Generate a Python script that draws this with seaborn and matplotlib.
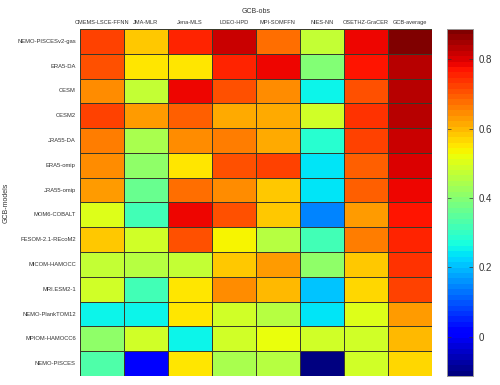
import numpy as np
import pandas as pd
import matplotlib
matplotlib.use("Agg")
import matplotlib.pyplot as plt
import seaborn as sns

obs = ["CMEMS-LSCE-FFNN", "JMA-MLR", "Jena-MLS", "LDEO-HPD", "MPI-SOMFFN",
       "NIES-NN", "OSETHZ-GraCER", "GCB-average"]
models = ["NEMO-PISCESv2-gas", "ERA5-DA", "CESM", "CESM2", "JRA55-DA", "ERA5-omip",
          "JRA55-omip", "MOM6-COBALT", "FESOM-2.1-REcoM2", "MICOM-HAMOCC",
          "MRI.ESM2-1", "NEMO-PlankTOM12", "MPIOM-HAMOCC6", "NEMO-PISCES"]

r_nemo_v2 = [0.73, 0.58, 0.76, 0.81, 0.68, 0.47, 0.79, 0.886]
r_era5_da = [0.70, 0.55, 0.55, 0.76, 0.79, 0.39, 0.77, 0.83]
r_cesm = [0.65, 0.47, 0.78, 0.70, 0.65, 0.26, 0.70, 0.83]
r_cesm2 = [0.73, 0.635, 0.69, 0.62, 0.61, 0.49, 0.745, 0.83]
r_jra55_da = [0.66, 0.44, 0.65, 0.66, 0.62, 0.29, 0.72, 0.81]
r_era5_omip = [0.65, 0.41, 0.55, 0.70, 0.72, 0.24, 0.69, 0.80]
r_jra55_omip = [0.635, 0.36, 0.68, 0.65, 0.59, 0.24, 0.69, 0.79]
r_mom6 = [0.50, 0.31, 0.79, 0.70, 0.59, 0.14, 0.635, 0.77]
r_fesom = [0.58, 0.49, 0.70, 0.53, 0.455, 0.32, 0.66, 0.76]
r_micom = [0.47, 0.455, 0.47, 0.58, 0.635, 0.41, 0.59, 0.745]
r_mri = [0.49, 0.31, 0.545, 0.65, 0.60, 0.20, 0.57, 0.73]
r_plank = [0.25, 0.25, 0.545, 0.49, 0.455, 0.24, 0.50, 0.635]
r_mpiom = [0.41, 0.49, 0.26, 0.49, 0.52, 0.49, 0.49, 0.60]
r_nemo = [0.34, 0.00, 0.555, 0.44, 0.455, -0.11, 0.49, 0.57]

rows = [r_nemo_v2, r_era5_da, r_cesm, r_cesm2, r_jra55_da, r_era5_omip, r_jra55_omip,
        r_mom6, r_fesom, r_micom, r_mri, r_plank, r_mpiom, r_nemo]
df = pd.DataFrame(rows, index=models, columns=obs)

cbar_ticks = [0, 0.2, 0.4, 0.6, 0.8]
cbar_labels = ["0", "0.2", "0.4", "0.6", "0.8"]

plt.rcParams['font.family'] = ['Liberation Sans', 'DejaVu Sans']

fig = plt.figure(figsize=(5, 3.85), dpi=100)
ax = fig.add_axes([0.16, 0.0234, 0.703, 0.9013])
cax = fig.add_axes([0.8934, 0.0234, 0.0532, 0.9013])

sns.heatmap(df, ax=ax, cbar_ax=cax, cmap=plt.get_cmap('jet', 64),
            vmin=-0.113, vmax=0.887, linewidths=0.6, linecolor='#3a3a2a',
            cbar_kws={'ticks': cbar_ticks})

ax.xaxis.tick_top()
ax.set_xticklabels(obs, rotation=0, fontsize=4.1, color='#333333')
ax.set_yticklabels(models, rotation=0, fontsize=4.2, color='#333333')
ax.tick_params(axis='both', length=0, pad=3)
ax.set_xlabel("GCB-obs", fontsize=5, color='#333333')
ax.xaxis.set_label_position('top')
ax.xaxis.set_label_coords(0.5, 1.045)
ax.set_ylabel("GCB-models", fontsize=5, color='#333333')
ax.yaxis.set_label_coords(-0.2, 0.5)

cax.set_yticks(cbar_ticks)
cax.set_yticklabels(cbar_labels)
cax.tick_params(axis='y', direction='in', length=3, width=0.5, labelsize=7,
                colors='#333333', left=True, right=True, pad=4)
for s in cax.spines.values():
    s.set_visible(True)
    s.set_color('#999999')
    s.set_linewidth(0.6)

fig.savefig("out.png", dpi=100)
